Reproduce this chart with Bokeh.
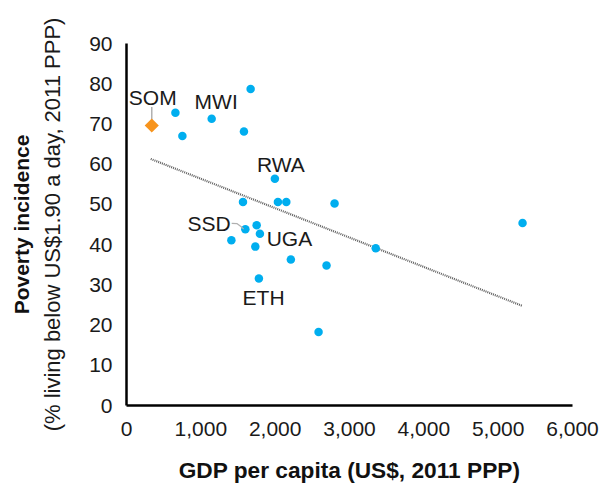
from bokeh.plotting import figure
from bokeh.models import Range1d, LinearAxis, FixedTicker, NumeralTickFormatter, ColumnDataSource
from bokeh.core.properties import value
from bokeh.embed import file_html
from bokeh.resources import INLINE
import math

# ---- data ----
gdp = [658, 752, 1146, 1670, 1580, 1996, 1567, 2037, 2150, 2799, 5328,
       1599, 1751, 1795, 1411, 1733, 2211, 2691, 3353, 1781, 2584]
poverty = [72.8, 67.0, 71.3, 78.7, 68.1, 56.4, 50.6, 50.6, 50.6, 50.2, 45.4,
           43.8, 44.8, 42.7, 41.1, 39.5, 36.3, 34.8, 39.1, 31.6, 18.3]
codes = ["", "", "MWI", "", "", "RWA", "", "", "", "", "",
         "SSD", "", "UGA", "", "", "", "", "", "ETH", ""]

som_gdp = [340]
som_poverty = [69.6]

trend_gdp = [326, 5320]
trend_poverty = [61.3, 24.8]

x_ticks = [0, 1000, 2000, 3000, 4000, 5000, 6000]
y_ticks = [0, 10, 20, 30, 40, 50, 60, 70, 80, 90]

# label placement (pixel offsets from the point)
label_codes = ["SOM", "MWI", "RWA", "SSD", "UGA", "ETH"]
label_dx = [1, 4.5, 6, -14.7, 6.7, 4.7]
label_dy = [-28, -17, -14.5, -5.5, 4.7, 19]
label_align = ["center", "center", "center", "right", "left", "center"]

FONT = "Liberation Sans"
BOLD_FONT = "Liberation Sans"

p = figure(width=613, height=485, output_backend="svg", toolbar_location=None,
           x_range=Range1d(0, 6000), y_range=Range1d(0, 90),
           min_border_left=126, min_border_right=41, min_border_top=43, min_border_bottom=78)
p.outline_line_color = None
p.grid.grid_line_color = None
p.background_fill_color = "white"
p.border_fill_color = "white"

# trend line
p.line(trend_gdp, trend_poverty, line_color="#5f5f5f", line_width=2.2, line_dash="1 1")

# points
src = ColumnDataSource(dict(x=gdp, y=poverty, code=codes))
p.scatter("x", "y", source=src, size=8.5, color="#00AEEF", line_color=None)

# SOM diamond + leader
p.segment(x0=som_gdp, y0=[som_poverty[0] + 0.9], x1=som_gdp, y1=[som_poverty[0] + 4.6],
          line_color="#b0b0b0", line_width=1.5)
p.scatter(som_gdp, som_poverty, marker="square", size=10, angle=math.pi / 4,
          color="#F7941D", line_color=None)

# SSD leader
i_ssd = codes.index("SSD")
sx, sy = gdp[i_ssd], poverty[i_ssd]
p.line([sx - 184, sx - 110, sx - 60, sx - 23], [sy + 1.5, sy + 1.4, sy + 0.7, sy + 0.1],
       line_color="#b0b0b0", line_width=1.2)

# labels
lx, ly = [], []
for c in label_codes:
    if c == "SOM":
        lx.append(som_gdp[0]); ly.append(som_poverty[0])
    else:
        i = codes.index(c)
        lx.append(gdp[i]); ly.append(poverty[i])
lsrc = ColumnDataSource(dict(x=lx, y=ly, t=label_codes, dx=label_dx, dy=label_dy, al=label_align))
p.text("x", "y", text="t", source=lsrc, x_offset="dx", y_offset="dy", text_align="al",
       text_baseline="middle", text_font=value(FONT), text_font_size="21px", text_color="#1a1a1a")

# axes
xa = p.xaxis[0]
xa.ticker = FixedTicker(ticks=x_ticks)
xa.formatter = NumeralTickFormatter(format="0,0")
xa.axis_line_color = "black"
xa.axis_line_width = 2.5
xa.major_tick_line_color = None
xa.minor_tick_line_color = None
xa.major_label_standoff = 10
xa.major_label_text_font = FONT
xa.major_label_text_font_size = "21px"
xa.major_label_text_color = "#1a1a1a"
xa.axis_label = "GDP per capita (US$, 2011 PPP)"
xa.axis_label_text_font = BOLD_FONT
xa.axis_label_text_font_style = "bold"
xa.axis_label_text_font_size = "22.7px"
xa.axis_label_text_color = "#111111"
xa.axis_label_standoff = 18

ya = p.yaxis[0]
ya.ticker = FixedTicker(ticks=y_ticks)
ya.axis_line_color = "black"
ya.axis_line_width = 2.5
ya.major_tick_line_color = None
ya.minor_tick_line_color = None
ya.major_label_standoff = 8
ya.major_label_text_font = FONT
ya.major_label_text_font_size = "21px"
ya.major_label_text_color = "#1a1a1a"
ya.axis_label = "(% living below US$1.90 a day, 2011 PPP)"
ya.axis_label_text_font = FONT
ya.axis_label_text_font_style = "normal"
ya.axis_label_text_font_size = "22px"
ya.axis_label_text_color = "#1a1a1a"
ya.axis_label_standoff = 21

ya2 = LinearAxis(ticker=FixedTicker(ticks=[]), axis_line_color=None,
                 major_tick_line_color=None, minor_tick_line_color=None,
                 axis_label="Poverty incidence", axis_label_text_font=BOLD_FONT,
                 axis_label_text_font_style="bold", axis_label_text_font_size="21px",
                 axis_label_text_color="#111111", axis_label_standoff=5)
p.add_layout(ya2, "left")

open("out.html", "w").write(file_html(p, INLINE))
